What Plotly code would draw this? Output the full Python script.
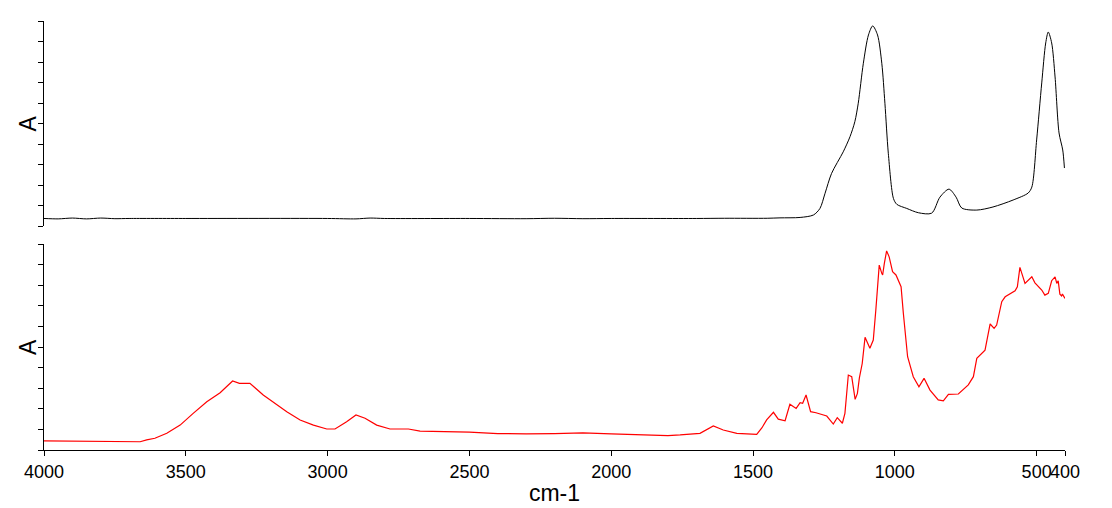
import plotly.graph_objects as go

# Top spectrum (black)
wn_top = [4000, 3950, 3900, 3850, 3800, 3750, 3700, 3500, 3000, 2900, 2850, 2800, 2500,
          2300, 2200, 2100, 2000, 1700, 1600, 1450, 1405, 1334, 1287, 1264, 1246,
          1223, 1182, 1158, 1141, 1129, 1111, 1093, 1078, 1061, 1046, 1035, 1023, 1005,
          993, 958, 917, 870, 841, 809, 784, 764, 711, 654, 583, 530, 517, 500, 482, 468,
          459, 447, 435, 421, 408, 402]
abs_top = [0.037, 0.035, 0.039, 0.035, 0.039, 0.036, 0.037, 0.037, 0.037, 0.035, 0.039, 0.037, 0.037,
           0.036, 0.038, 0.036, 0.037, 0.037, 0.038, 0.038, 0.040, 0.042, 0.054, 0.086, 0.160,
           0.257, 0.362, 0.436, 0.509, 0.599, 0.794, 0.932, 0.976, 0.932, 0.794, 0.599, 0.355, 0.135,
           0.106, 0.086, 0.065, 0.063, 0.141, 0.180, 0.141, 0.088, 0.078, 0.093, 0.127, 0.161, 0.190, 0.420, 0.698, 0.893,
           0.946, 0.893, 0.727, 0.454, 0.371, 0.283]

# Bottom spectrum (red)
wn_bot = [4000, 3900, 3800, 3700, 3661, 3638, 3609, 3567, 3520, 3474, 3426, 3379, 3356, 3335,
          3311, 3274, 3227, 3191, 3144, 3097, 3050, 3003, 2974, 2933, 2900, 2868, 2827, 2780,
          2715, 2674, 2500, 2400, 2300, 2200, 2100, 2000, 1900, 1800, 1757, 1687, 1640, 1605, 1557,
          1487, 1469, 1452, 1428, 1411, 1387, 1370, 1348, 1334, 1325, 1313, 1297, 1278, 1240,
          1217, 1203, 1185, 1176, 1164, 1152, 1140, 1132, 1125, 1115, 1105, 1088, 1076, 1067,
          1055, 1046, 1043, 1037, 1029, 1020, 1008, 996, 978, 970, 955, 935, 915, 897, 876,
          847, 829, 811, 776, 741, 723, 711, 682, 664, 650, 641, 623, 611, 576, 568, 559, 541,
          517, 506, 482, 471, 459, 447, 435, 429, 424, 418, 412, 409, 400]
abs_bot = [0.044, 0.043, 0.040, 0.040, 0.040, 0.049, 0.057, 0.081, 0.121, 0.178, 0.234, 0.278, 0.307, 0.335,
           0.324, 0.324, 0.267, 0.230, 0.186, 0.146, 0.121, 0.102, 0.102, 0.137, 0.170, 0.154, 0.121, 0.102,
           0.102, 0.092, 0.087, 0.080, 0.078, 0.080, 0.083, 0.078, 0.073, 0.070, 0.073, 0.081, 0.117, 0.097, 0.081,
           0.076, 0.107, 0.146, 0.183, 0.150, 0.142, 0.222, 0.202, 0.230, 0.227, 0.267, 0.186, 0.181, 0.165,
           0.126, 0.157, 0.130, 0.178, 0.364, 0.356, 0.246, 0.275, 0.350, 0.420, 0.547, 0.494, 0.534, 0.680,
           0.898, 0.858, 0.850, 0.906, 0.967, 0.938, 0.866, 0.850, 0.793, 0.664, 0.453, 0.356, 0.307, 0.348, 0.291,
           0.243, 0.239, 0.270, 0.272, 0.316, 0.356, 0.445, 0.485, 0.612, 0.591, 0.607, 0.720, 0.744, 0.773, 0.793, 0.887, 0.809,
           0.841, 0.812, 0.777, 0.752, 0.761, 0.822, 0.841, 0.809, 0.822, 0.757, 0.748, 0.757, 0.736]

x_tickvals = [4000, 3500, 3000, 2500, 2000, 1500, 1000, 500, 400]
x_ticktext = ["4000", "3500", "3000", "2500", "2000", "1500", "1000", "500", "400"]
x_title = "cm-1"
y_title = "A"

FONT = "Liberation Sans, Arial, sans-serif"

TOP_DOMAIN = [0.522, 1]
BOT_DOMAIN = [0, 0.480]

fig = go.Figure()
fig.add_trace(go.Scatter(x=wn_top, y=abs_top, mode="lines", xaxis="x2", yaxis="y2",
                         line=dict(color="black", width=1, shape="spline", smoothing=0.8),
                         showlegend=False, hoverinfo="x+y"))
fig.add_trace(go.Scatter(x=wn_bot, y=abs_bot, mode="lines", xaxis="x", yaxis="y",
                         line=dict(color="#ff0000", width=1.2),
                         showlegend=False, hoverinfo="x+y"))

yax_common = dict(range=[0, 1], tick0=0, dtick=0.1, showticklabels=False, ticks="outside",
                  ticklen=5, tickcolor="black", tickwidth=1, showline=True, linecolor="black",
                  linewidth=1, showgrid=False, zeroline=False)

for dom in (TOP_DOMAIN, BOT_DOMAIN):
    fig.add_annotation(text=y_title, xref="paper", yref="paper", x=0, y=(dom[0] + dom[1]) / 2,
                       xanchor="center", yanchor="middle", xshift=-16, textangle=-90,
                       showarrow=False, font=dict(family=FONT, size=23, color="black"))

fig.update_layout(
    width=1112, height=508,
    margin=dict(l=36, r=55, t=13, b=66),
    paper_bgcolor="white", plot_bgcolor="white",
    font=dict(family=FONT, color="black"),
    xaxis=dict(range=[4000, 400], tickmode="array", tickvals=x_tickvals, ticktext=x_ticktext,
               tickangle=0, ticks="outside", ticklen=5, tickcolor="black", showline=True,
               linecolor="black", linewidth=1, showgrid=False, zeroline=False,
               tickfont=dict(family=FONT, size=18, color="black"),
               title=dict(text=x_title, font=dict(family=FONT, size=23, color="black"), standoff=4),
               anchor="y"),
    xaxis2=dict(range=[4000, 400], matches="x", visible=False, anchor="y2"),
    yaxis=dict(domain=BOT_DOMAIN, anchor="x", **yax_common),
    yaxis2=dict(domain=TOP_DOMAIN, anchor="x2", **yax_common),
)

fig.write_html("out.html")
